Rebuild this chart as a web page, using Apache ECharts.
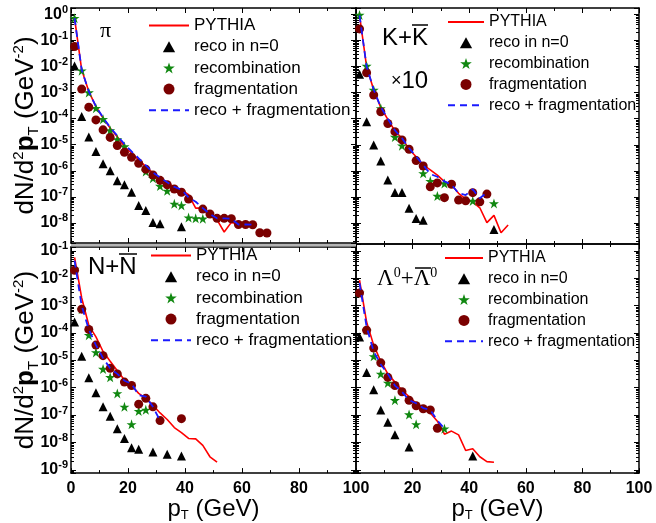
<!DOCTYPE html>
<html><head><meta charset="utf-8">
<script src="https://cdn.jsdelivr.net/npm/echarts@6/dist/echarts.min.js"></script>
<style>html,body{margin:0;padding:0;background:#fff}#c{width:656px;height:523px}</style>
</head><body><div id="c"></div>
<script>
// pT bin centres (GeV)
const ptBins = [1.25, 3.75, 6.25, 8.75, 11.25, 13.75, 16.25, 18.75, 21.25, 23.75, 26.25, 28.75, 31.25, 33.75,
  36.25, 38.75, 41.25, 43.75, 46.25, 48.75, 51.25, 53.75, 56.25, 58.75, 61.25, 63.75, 66.25, 68.75];
const xTicks = [0, 20, 40, 60, 80, 100];
const seriesNames = ['PYTHIA', 'reco in n=0', 'recombination', 'fragmentation', 'reco + fragmentation'];

// pi
const piPythia = [0.71, 7.4e-3, 1.1e-3, 2.9e-4, 1.05e-4, 4.3e-5, 2.0e-5, 8.5e-6, 4.7e-6, 2.6e-6, 1.45e-6, 8.1e-7, 5.2e-7, 3.5e-7, 2.3e-7, 1.85e-7, 1.2e-7, 3.7e-8, 3.7e-8, 2.0e-8, 1.3e-8, 4.5e-9, 1.05e-8, 9.0e-9, 9.2e-9, 8.5e-9];
const piReco = [1.05e-2, 1.2e-4, 1.95e-5, 5.5e-6, 1.85e-6, 1.0e-6, 4.1e-7, 2.9e-7, 1.5e-7, 4.7e-8, 3.0e-8, 1.05e-8, 9.3e-9, null, null, 7.2e-9];
const piRecomb = [0.71, 6.9e-3, 1.0e-3, 2.5e-4, 9.5e-5, 3.5e-5, 1.6e-5, 8.5e-6, null, null, 9.3e-7, 5.2e-7, 2.6e-7, 1.7e-7, 5.4e-8, 4.7e-8, 1.6e-8, 1.5e-8, 1.45e-8];
const piFrag = [5.8e-2, 1.35e-3, 2.75e-4, 8.9e-5, 3.7e-5, 1.9e-5, 9.3e-6, 5.1e-6, 3.3e-6, 1.95e-6, 1.15e-6, 6.9e-7, 4.3e-7, 2.9e-7, 2.0e-7, 1.5e-7, 8.3e-8, null, 3.4e-8, 2.2e-8, 1.5e-8, 1.5e-8, 1.45e-8, 8.7e-9, 8.7e-9, 8.5e-9, 4.2e-9, 4.1e-9];
const piSum = [0.71, 7.4e-3, 1.1e-3, 2.9e-4, 1.1e-4, 4.6e-5, 2.2e-5, 1.05e-5, 5.5e-6, 3.0e-6, 1.6e-6, 8.5e-7, 5.5e-7, 3.6e-7, 2.4e-7, 1.9e-7, 9.5e-8, 6.5e-8, 3.7e-8, 2.2e-8, 1.5e-8, 1.5e-8, 1.45e-8, 8.7e-9, 8.7e-9, 8.5e-9];

// K + Kbar (x10)
const kPythia = [0.9, 1.0e-2, 1.26e-3, 2.7e-4, 9.5e-5, 3.4e-5, 1.8e-5, 6.8e-6, 3.5e-6, 1.7e-6, 1.1e-6, 6.9e-7, 3.9e-7, 2.9e-7, 1.4e-7, 8.3e-8, 6.6e-8, 3.9e-8, 1.05e-8, 2.0e-8, 4.3e-9, 8.5e-9];
const kReco = [5.1e-3, 7.7e-5, 9.8e-6, 2.4e-6, 4.5e-7, 1.5e-7, 1.5e-7, 3.7e-8, 1.5e-8, 1.3e-8, null, null, null, null, null, null, null, null, null, 5.8e-9];
const kRecomb = [0.94, 1.05e-2, 1.26e-3, 2.5e-4, null, 2.0e-5, 9.3e-6, null, null, 8.1e-7, 4.1e-7, 1.1e-7, 3.3e-7, null, null, null, 7.1e-8, null, null, 5.7e-8];
const kFrag = [0.275, 5.8e-3, 8.1e-4, 1.86e-4, 6.6e-5, 3.2e-5, 1.55e-5, 6.8e-6, 2.5e-6, 1.55e-6, 2.5e-7, 3.5e-7, 9.5e-8, 3.1e-7, 7.7e-8, 7.2e-8, 1.48e-7, 6.6e-8, 1.3e-7];
const kSum = [0.9, 1.0e-2, 1.3e-3, 2.8e-4, 1.0e-4, 3.6e-5, 1.8e-5, 7.5e-6, 3.6e-6, 1.7e-6, 7.6e-7, 6.0e-7, 4.0e-7, 3.0e-7, 1.4e-7, 1.2e-7, 2.0e-7, 9.0e-8, 1.5e-7];

// N + Nbar
const nPythia = [5.8e-2, 1.9e-3, 1.9e-4, 7.2e-5, 2.1e-5, 9.3e-6, 4.2e-6, 1.9e-6, 1.2e-6, 6.2e-7, 4.1e-7, 2.3e-7, 1.2e-7, 6.9e-8, 3.5e-8, 2.3e-8, 1.4e-8, 1.35e-8, 7.8e-9, 3.0e-9, 1.9e-9];
const nReco = [2.5e-4, 1.4e-5, 2.3e-6, 6.6e-7, 2.0e-7, 9.1e-8, 3.2e-8, 1.4e-8, 6.4e-9, 5.6e-9, null, 4.5e-9, null, 3.7e-9, null, 3.2e-9];
const nRecomb = [2.2e-2, 7.4e-4, 8.3e-5, 1.95e-5, 4.8e-6, 2.4e-6, 6.2e-7, 2.0e-7, 4.6e-8, 1.4e-7, 1.55e-7];
const nFrag = [1.95e-2, 7.4e-4, 1.35e-4, 3.6e-5, 1.48e-5, 5.1e-6, 3.2e-6, 1.6e-6, 1.2e-6, 2.5e-7, 4.1e-7, 2.0e-7, 6.3e-8, null, null, 7.4e-8];
const nSum = [4.4e-2, 9.8e-4, 1.35e-4, 3.6e-5, 1.2e-5, 5.1e-6, 3.2e-6, 1.8e-6, 1.4e-6, 5.4e-7, 4.7e-7, 2.0e-7, 6.3e-8];

// Lambda + Lambdabar
const lPythia = [8.5e-3, 2.5e-4, 3.6e-5, 9.3e-6, 3.2e-6, 1.6e-6, 8.1e-7, 4.7e-7, 2.7e-7, 1.8e-7, 1.2e-7, 6.0e-8, 2.0e-8, 2.6e-8, 1.9e-8, 5.1e-9, 5.9e-9, 3.0e-9, 2.0e-9, 1.9e-9];
const lReco = [7.2e-5, 3.6e-6, 8.5e-7, 1.55e-7, 5.5e-8, 1.9e-8, null, 6.8e-9, null, null, null, null, null, null, null, null, 3.2e-9];
const lRecomb = [2.9e-3, 1.26e-4, 1.4e-5, 3.2e-6, 1.5e-6, 3.5e-7, null, 1.05e-7, 4.6e-8, null, null, null, 3.2e-8];
const lFrag = [2.9e-3, 1.26e-4, 2.8e-5, 8.1e-6, 2.4e-6, 1.2e-6, 7.1e-7, 3.5e-7, 2.2e-7, 1.7e-7, 1.55e-7, 3.3e-8];
const lSum = [6.6e-3, 1.66e-4, 2.1e-5, 7.1e-6, 3.2e-6, 1.2e-6, 7.1e-7, 3.5e-7, 2.7e-7, 1.8e-7, 1.55e-7, 6.3e-8, 3.2e-8];

const FONT = '"Liberation Sans", Arial, sans-serif';
const SERIF = '"Liberation Serif", "Times New Roman", serif';
const STAR = 'path://M50,0L61.8,35.1L98.5,35.1L68.8,56.9L80.2,92L50,70.3L19.8,92L31.2,56.9L1.5,35.1L38.2,35.1Z';
const TRI = 'path://M50,0L100,90L0,90Z';

const grids = [
  {left: 71, top: 8, width: 285, height: 235},
  {left: 356, top: 8, width: 283, height: 236},
  {left: 71, top: 247, width: 285, height: 231},
  {left: 356, top: 244, width: 283, height: 234}
];
const yRanges = [[1.7e-9, 1.74], [1.6e-9, 1.74], [7.6e-10, 0.138], [7.6e-10, 0.178]];
const panels = [
  [piPythia, piReco, piRecomb, piFrag, piSum],
  [kPythia, kReco, kRecomb, kFrag, kSum],
  [nPythia, nReco, nRecomb, nFrag, nSum],
  [lPythia, lReco, lRecomb, lFrag, lSum]
];

const pairs = a => a.map((v, k) => [ptBins[k], v]).filter(d => d[1] != null);

const xAxis = [], yAxis = [], series = [];
grids.forEach((g, i) => {
  const isBottom = i >= 2, isLeft = (i % 2) === 0;
  const xBase = {
    type: 'value', gridIndex: i, min: 0, max: 100, interval: 20,
    axisLine: {show: true, onZero: false, lineStyle: {color: '#000', width: 1.5}},
    axisTick: {show: true, inside: true, length: 5, lineStyle: {color: '#000', width: 1}},
    minorTick: {show: true, splitNumber: 2, length: 3, lineStyle: {color: '#000', width: 1}},
    splitLine: {show: false}
  };
  xAxis.push(Object.assign({}, xBase, {
    position: 'bottom',
    axisLabel: {show: isBottom, fontSize: 16, fontWeight: 'bold', fontFamily: FONT, color: '#000', margin: 7,
      formatter: v => (!isLeft && v === 0) ? '' : String(v)},
    name: isBottom ? '{a|p}{s|T}{a| (GeV)}' : '',
    nameLocation: 'middle', nameGap: 19,
    nameTextStyle: {color: '#000', fontFamily: FONT,
      rich: {a: {fontSize: 24, fontFamily: FONT, color: '#000', lineHeight: 26},
             s: {fontSize: 13, fontFamily: FONT, color: '#000', verticalAlign: 'bottom', lineHeight: 12}}}
  }));
  xAxis.push(Object.assign({}, xBase, {position: 'top', axisLabel: {show: false}}));

  const yBase = {
    type: 'log', logBase: 10, gridIndex: i, min: yRanges[i][0], max: yRanges[i][1], splitNumber: 10,
    axisLine: {show: true, onZero: false, lineStyle: {color: '#000', width: 1.5}},
    axisTick: {show: true, inside: true, length: 5, lineStyle: {color: '#000', width: 1}},
    minorTick: {show: true, splitNumber: 9, length: 3, lineStyle: {color: '#000', width: 1}},
    splitLine: {show: false}
  };
  yAxis.push(Object.assign({}, yBase, {
    position: 'left',
    axisLabel: {show: isLeft, margin: 3,
      formatter: v => {
        const e = Math.log10(v), r = Math.round(e);
        if (Math.abs(e - r) > 1e-6) return '';
        return '{b|10}{s|' + r + '}';
      },
      rich: {b: {fontSize: 16, fontWeight: 'bold', fontFamily: FONT, color: '#000', lineHeight: 20},
             s: {fontSize: 11, fontWeight: 'bold', fontFamily: FONT, color: '#000', verticalAlign: 'top', lineHeight: 11}}},
    name: isLeft ? '{a|dN/d}{u|2}{b|p}{d|T}{a| (GeV}{u|-2}{a|)}' : '',
    nameLocation: 'middle', nameRotate: 90, nameGap: 30, nameMoveOverlap: false,
    nameTextStyle: {color: '#000', fontFamily: FONT,
      rich: {a: {fontSize: 26, fontFamily: FONT, color: '#000', lineHeight: 30},
             b: {fontSize: 26, fontWeight: 'bold', fontFamily: FONT, color: '#000', lineHeight: 30},
             u: {fontSize: 15, fontFamily: FONT, color: '#000', verticalAlign: 'top', lineHeight: 14},
             d: {fontSize: 15, fontFamily: FONT, color: '#000', verticalAlign: 'bottom', lineHeight: 14}}}
  }));
  yAxis.push(Object.assign({}, yBase, {position: 'right', axisLabel: {show: false}}));

  const [pyt, reco, rec, frag, sum] = panels[i];
  const xi = 2 * i, yi = 2 * i;
  series.push(
    {name: seriesNames[0], type: 'line', xAxisIndex: xi, yAxisIndex: yi, data: pairs(pyt), symbol: 'none',
      lineStyle: {color: '#ff0000', width: 1.6}, itemStyle: {color: '#ff0000'}, z: 2},
    {name: seriesNames[1], type: 'scatter', xAxisIndex: xi, yAxisIndex: yi, data: pairs(reco), symbol: 'triangle',
      symbolSize: 9, itemStyle: {color: '#000000', opacity: 1}, z: 3},
    {name: seriesNames[2], type: 'scatter', xAxisIndex: xi, yAxisIndex: yi, data: pairs(rec), symbol: STAR,
      symbolSize: 10, itemStyle: {color: '#118811', opacity: 1}, z: 3},
    {name: seriesNames[3], type: 'scatter', xAxisIndex: xi, yAxisIndex: yi, data: pairs(frag), symbol: 'circle',
      symbolSize: 9, itemStyle: {color: '#7a0000', opacity: 1}, z: 4},
    {name: seriesNames[4], type: 'line', xAxisIndex: xi, yAxisIndex: yi, data: pairs(sum), symbol: 'none',
      lineStyle: {color: '#1a1aff', width: 1.8, type: [7, 5]}, itemStyle: {color: '#1a1aff'}, z: 5}
  );
});

const legendData = [
  {name: seriesNames[0], itemStyle: {opacity: 0}},
  {name: seriesNames[1], icon: TRI},
  {name: seriesNames[2], icon: STAR},
  {name: seriesNames[3], icon: 'circle'},
  {name: seriesNames[4], itemStyle: {opacity: 0}}
];
const legendBase = {orient: 'vertical', itemHeight: 11, data: legendData, selectedMode: false, padding: 0,
  symbolKeepAspect: true};
const legends = [
  {left: 148, top: 17, fs: 17, gap: 4.2, w: 40},
  {left: 447, top: 14, fs: 16, gap: 4.8, w: 36},
  {left: 150, top: 247, fs: 17, gap: 4.2, w: 40},
  {left: 444, top: 250, fs: 16, gap: 4.8, w: 38}
].map(l => Object.assign({}, legendBase, {left: l.left, top: l.top, itemGap: l.gap, itemWidth: l.w,
  textStyle: {fontSize: l.fs, fontFamily: FONT, color: '#000'}}));

const graphic = [
  {type: 'rect', shape: {x: 71, y: 244, width: 285, height: 2.5}, style: {fill: '#b4b4b4'}, z: 10},
  {type: 'text', x: 100, y: 31, style: {text: 'π', font: '22px ' + SERIF, fill: '#000', textVerticalAlign: 'middle'}, z: 10},
  {type: 'text', x: 382, y: 38, style: {text: 'K+K', font: '24px ' + FONT, fill: '#000', textVerticalAlign: 'middle'}, z: 10},
  {type: 'line', shape: {x1: 412, y1: 25, x2: 428, y2: 25}, style: {stroke: '#000', lineWidth: 1.5}, z: 10},
  {type: 'text', x: 391, y: 81, style: {text: '{m|×}{d|10}', fill: '#000', textVerticalAlign: 'middle',
    rich: {m: {fontSize: 18, fontFamily: FONT, fill: '#000'}, d: {fontSize: 24, fontFamily: FONT, fill: '#000'}}}, z: 10},
  {type: 'text', x: 88, y: 267, style: {text: 'N+N', font: '24px ' + FONT, fill: '#000', textVerticalAlign: 'middle'}, z: 10},
  {type: 'line', shape: {x1: 119, y1: 254, x2: 137, y2: 254}, style: {stroke: '#000', lineWidth: 1.5}, z: 10},
  {type: 'text', x: 377, y: 279, style: {text: '{l|Λ}{s|0}{l|+}{l|Λ}{s|0}', fill: '#000', textVerticalAlign: 'middle',
    rich: {l: {fontSize: 23, fontFamily: SERIF, fill: '#000', lineHeight: 26},
           s: {fontSize: 14, fontFamily: SERIF, fill: '#000', verticalAlign: 'top', lineHeight: 14}}}, z: 10},
  {type: 'line', shape: {x1: 415, y1: 268, x2: 431, y2: 268}, style: {stroke: '#000', lineWidth: 1.5}, z: 10}
];

const chart = echarts.init(document.getElementById('c'), null, {renderer: 'canvas'});
chart.setOption({
  animation: false,
  backgroundColor: '#fff',
  grid: grids.map(g => Object.assign({show: false, containLabel: false}, g)),
  xAxis, yAxis, series,
  legend: legends,
  graphic
});
</script></body></html>
